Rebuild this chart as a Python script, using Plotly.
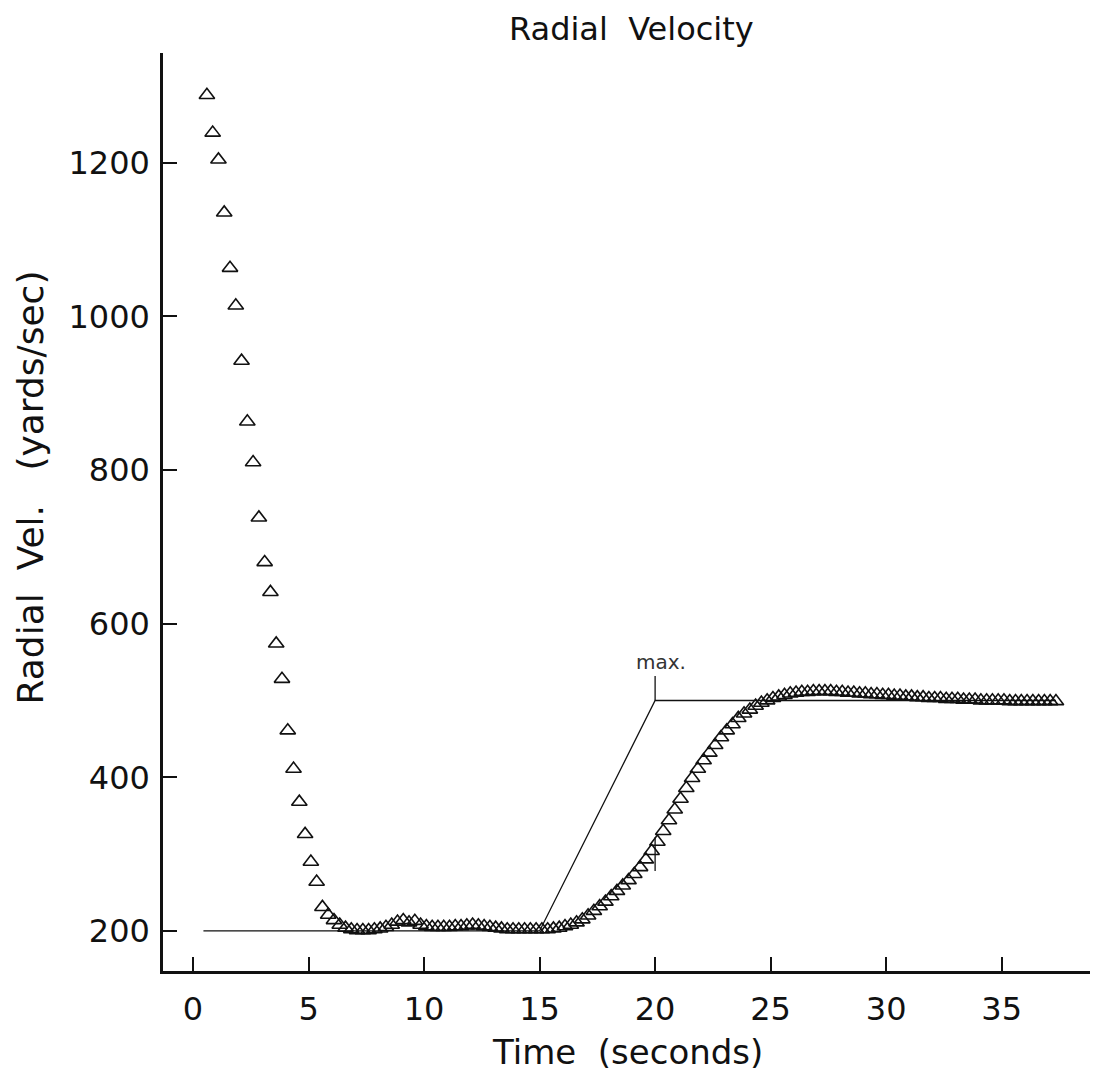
import plotly.graph_objects as go

# ---- data ----
time_s = [
    0.60, 0.85, 1.10, 1.35, 1.60, 1.85, 2.10, 2.35, 2.60, 2.85,
    3.10, 3.35, 3.60, 3.85, 4.10, 4.35, 4.60, 4.85, 5.10, 5.35,
    5.60, 5.85, 6.10, 6.35, 6.60, 6.85, 7.10, 7.35, 7.60, 7.85,
    8.10, 8.35, 8.60, 8.85, 9.10, 9.35, 9.60, 9.85, 10.10, 10.35,
    10.60, 10.85, 11.10, 11.35, 11.60, 11.85, 12.10, 12.35, 12.60, 12.85,
    13.10, 13.35, 13.60, 13.85, 14.10, 14.35, 14.60, 14.85, 15.10, 15.35,
    15.60, 15.85, 16.10, 16.35, 16.60, 16.85, 17.10, 17.35, 17.60, 17.85,
    18.10, 18.35, 18.60, 18.85, 19.10, 19.35, 19.60, 19.85, 20.10, 20.35,
    20.60, 20.85, 21.10, 21.35, 21.60, 21.85, 22.10, 22.35, 22.60, 22.85,
    23.10, 23.35, 23.60, 23.85, 24.10, 24.35, 24.60, 24.85, 25.10, 25.35,
    25.60, 25.85, 26.10, 26.35, 26.60, 26.85, 27.10, 27.35, 27.60, 27.85,
    28.10, 28.35, 28.60, 28.85, 29.10, 29.35, 29.60, 29.85, 30.10, 30.35,
    30.60, 30.85, 31.10, 31.35, 31.60, 31.85, 32.10, 32.35, 32.60, 32.85,
    33.10, 33.35, 33.60, 33.85, 34.10, 34.35, 34.60, 34.85, 35.10, 35.35,
    35.60, 35.85, 36.10, 36.35, 36.60, 36.85, 37.10, 37.35,
]
radial_vel = [
    1288, 1239, 1204, 1135, 1063, 1014, 942, 863, 810, 738,
    680, 641, 574, 528, 461, 411, 368, 326, 290, 264,
    231, 221, 214, 208, 204, 202, 201, 201, 201, 202,
    203, 205, 208, 212, 214, 211, 213, 208, 206, 205,
    205, 205, 205, 206, 206, 207, 208, 207, 206, 205,
    204, 203, 202, 202, 202, 202, 202, 202, 202, 202,
    203, 204, 206, 208, 211, 215, 220, 226, 232, 238,
    245, 252, 259, 266, 274, 283, 293, 304, 316, 330,
    344, 358, 372, 386, 399, 411, 422, 432, 442, 452,
    461, 469, 477, 483, 488, 493, 497, 500, 503, 505,
    507, 509, 510, 511, 511, 512, 512, 512, 512, 511,
    511, 510, 510, 509, 509, 508, 508, 507, 507, 506,
    506, 505, 505, 504, 504, 503, 503, 503, 502, 502,
    502, 501, 501, 501, 500, 500, 500, 500, 500, 499,
    499, 499, 499, 499, 499, 499, 499, 499,
]

# commanded (reference) profile
cmd_t = [0.45, 15.0, 20.0, 37.35]
cmd_v = [200, 200, 500, 500]

# "max." marker ticks
max_tick_t = [20.0, 20.0]
max_tick_v = [500, 532]
mark_tick_t = [20.0, 20.0]
mark_tick_v = [278, 322]

x_ticks = [0, 5, 10, 15, 20, 25, 30, 35]
y_ticks = [200, 400, 600, 800, 1000, 1200]

FONT = "DejaVu Sans"
INK = "#111111"

fig = go.Figure()
fig.add_trace(go.Scatter(x=cmd_t, y=cmd_v, mode="lines",
                         line=dict(color=INK, width=1.3), hoverinfo="skip"))
fig.add_trace(go.Scatter(x=max_tick_t, y=max_tick_v, mode="lines",
                         line=dict(color=INK, width=1.3), hoverinfo="skip"))
fig.add_trace(go.Scatter(x=mark_tick_t, y=mark_tick_v, mode="lines",
                         line=dict(color=INK, width=1.3), hoverinfo="skip"))
fig.add_trace(go.Scatter(
    x=time_s, y=radial_vel, mode="markers",
    marker=dict(symbol="triangle-up-open", size=13.5, color=INK,
                line=dict(color=INK, width=1.6)),
))

fig.add_annotation(x=20.26, y=550, xref="x", yref="y", text="max.",
                   showarrow=False, font=dict(family=FONT, size=20, color="#333"))

# titles as annotations in paper coordinates (plot area: 918 px tall)
fig.add_annotation(x=0.5016, y=1.049, xref="paper", yref="paper",
                   text="Radial\u00a0\u00a0Velocity", showarrow=False,
                   xanchor="center", yanchor="top",
                   font=dict(family=FONT, size=32, color=INK))
fig.add_annotation(x=0.497, y=-0.088, xref="paper", yref="paper",
                   text="Time\u00a0\u00a0(seconds)", showarrow=False,
                   xanchor="center", yanchor="middle",
                   font=dict(family=FONT, size=34, color=INK))
fig.add_annotation(x=-0.142, y=0.527, xref="paper", yref="paper",
                   text="Radial\u00a0\u00a0Vel.\u00a0\u00a0\u00a0(yards/sec)", showarrow=False,
                   textangle=-90, xanchor="center", yanchor="middle",
                   font=dict(family=FONT, size=36, color=INK))

# page body has an 8px default margin: shift the figure to compensate
fig.update_layout(
    width=1090, height=1070,
    margin=dict(l=155, r=0, t=45, b=107),
    paper_bgcolor="white", plot_bgcolor="white",
    showlegend=False,
    font=dict(family=FONT, color=INK),
)
fig.update_xaxes(
    range=[-1.30, 39.17], tickvals=x_ticks, ticktext=[str(v) for v in x_ticks],
    ticks="inside", ticklen=14, tickwidth=1.5, tickcolor=INK,
    showline=True, linecolor=INK, linewidth=2.5,
    showgrid=False, zeroline=False,
    tickfont=dict(family=FONT, size=32, color=INK),
    ticklabelstandoff=8,
)
fig.update_yaxes(
    range=[147.9, 1342.8], tickvals=y_ticks, ticktext=[str(v) for v in y_ticks],
    ticks="inside", ticklen=14, tickwidth=1.5, tickcolor=INK,
    showline=True, linecolor=INK, linewidth=2.5,
    showgrid=False, zeroline=False,
    tickfont=dict(family=FONT, size=32, color=INK),
    ticklabelstandoff=4,
)

fig.write_html("out.html")
